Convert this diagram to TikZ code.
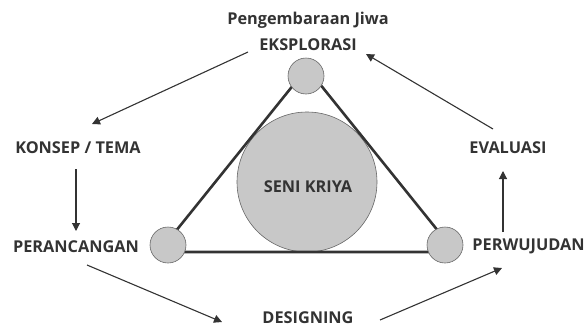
\documentclass[tikz,border=0pt]{standalone}
\usepackage{fontspec}
\setmainfont{Open Sans}
\usetikzlibrary{arrows.meta}
\definecolor{ink}{HTML}{333333}
\definecolor{cfill}{HTML}{C8C8C8}
\definecolor{cedge}{HTML}{666666}
\begin{document}
\begin{tikzpicture}[x=1pt,y=-1pt,
  lbl/.style={font=\bfseries\fontsize{16.3}{18}\selectfont, text=ink, inner sep=0pt},
  flow/.style={draw=ink, line width=1.1pt, -{Triangle[length=8pt,width=8pt]}},
  tri/.style={draw=ink, line width=2.6pt},
  dot/.style={circle, fill=cfill, draw=cedge, line width=0.6pt, minimum size=36pt, inner sep=0pt}]
\useasboundingbox (0,0) rectangle (584,327);
% triangle
\coordinate (A) at (307,68);
\coordinate (B) at (159,252);
\coordinate (C) at (455,252);
\node[circle, fill=cfill, draw=cedge, line width=0.6pt, minimum size=140pt, inner sep=0pt] (big) at (307,182) {};
\draw[tri] (A) -- (B) -- (C) -- cycle;
\node[dot] (ctop) at (306,76) {};
\node[dot] (cleft) at (168,245) {};
\node[dot] (cright) at (445,245) {};
\node[lbl] (seni) at (308,187) {SENI KRIYA};
% labels
\node[lbl] (jiwa) at (308,20) {Pengembaraan Jiwa};
\node[lbl] (eks) at (308,45) {EKSPLORASI};
\node[lbl] (konsep) at (78,148) {KONSEP / TEMA};
\node[lbl] (peran) at (76,247) {PERANCANGAN};
\node[lbl] (design) at (308,317.5) {DESIGNING};
\node[lbl] (eval) at (508,148) {EVALUASI};
\node[lbl] (perw) at (528.5,246) {PERWUJUDAN};
% arrow end points
\coordinate (a1s) at (248,52);
\coordinate (a1e) at (92,124);
\coordinate (a2s) at (76,169);
\coordinate (a2e) at (76,231);
\coordinate (a3s) at (87,265);
\coordinate (a3e) at (222,322);
\coordinate (a4s) at (380,320);
\coordinate (a4e) at (502,268);
\coordinate (a5s) at (503,232);
\coordinate (a5e) at (503,171);
\coordinate (a6s) at (493,129);
\coordinate (a6e) at (366,54);
\draw[flow] (a1s) -- (a1e);
\draw[flow] (a2s) -- (a2e);
\draw[flow] (a3s) -- (a3e);
\draw[flow] (a4s) -- (a4e);
\draw[flow] (a5s) -- (a5e);
\draw[flow] (a6s) -- (a6e);
\end{tikzpicture}
\end{document}
